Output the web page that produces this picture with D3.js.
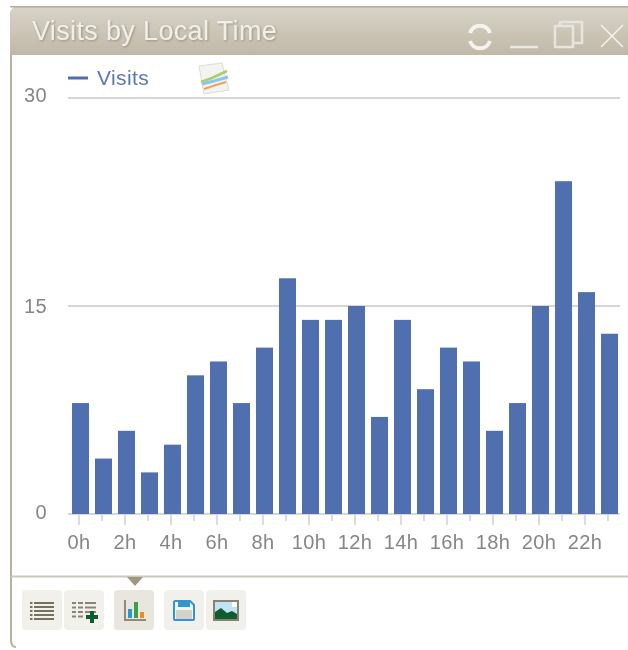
<!DOCTYPE html>
<html lang="en">
<head>
    <meta charset="UTF-8">
    <title>Visits by Local Time</title>
    <script src="https://d3js.org/d3.v7.min.js"></script>
    <style>
        html, body { margin: 0; padding: 0; background: #fff; overflow: hidden; }
        svg { display: block; font-family: "Liberation Sans", Arial, sans-serif; filter: blur(0.55px); }
        .axis text { font-size: 20px; letter-spacing: 0.4px; fill: #858585; }
    </style>
</head>
<body>
    <div id="chart"></div>
    <script>
        const hours = ["0h","1h","2h","3h","4h","5h","6h","7h","8h","9h","10h","11h","12h","13h","14h","15h","16h","17h","18h","19h","20h","21h","22h","23h"];
        const visits = [8,4,6,3,5,10,11,8,12,17,14,14,15,7,14,9,12,11,6,8,15,24,16,13];
        const yTicks = [0,15,30];
        const title = "Visits by Local Time";
        const seriesName = "Visits";

        const svg = d3.select("#chart").append("svg")
            .attr("width", 628)
            .attr("height", 650);

        const defs = svg.append("defs");
        const grad = defs.append("linearGradient")
            .attr("id", "head")
            .attr("x1", 0).attr("y1", 0).attr("x2", 0).attr("y2", 1);
        grad.append("stop").attr("offset", "0%").attr("stop-color", "#d8d4c8");
        grad.append("stop").attr("offset", "100%").attr("stop-color", "#c0b8a7");

        const shadow = defs.append("filter").attr("id", "titleShadow")
            .attr("x", "-5%").attr("y", "-30%").attr("width", "110%").attr("height", "160%");
        shadow.append("feDropShadow")
            .attr("dx", 1).attr("dy", 1).attr("stdDeviation", 1)
            .attr("flood-color", "#8f8672").attr("flood-opacity", 0.8);

        // Panel frame
        svg.append("path")
            .attr("d", "M628,7 H20 Q11,7 11,16 V640 Q11,647 16,647")
            .attr("fill", "none")
            .attr("stroke", "#b9b2a2")
            .attr("stroke-width", 2);
        svg.append("path")
            .attr("d", "M628,6 H20 Q10,6 10,16 V55 H628 Z")
            .attr("fill", "url(#head)");
        svg.append("rect")
            .attr("x", 10).attr("y", 6).attr("width", 618).attr("height", 1.5)
            .attr("fill", "#b3aa97");

        svg.append("text")
            .attr("x", 32).attr("y", 40)
            .attr("font-size", 27)
            .attr("letter-spacing", 0.35)
            .attr("fill", "#f1efe9")
            .attr("filter", "url(#titleShadow)")
            .text(title);

        // Window buttons
        const win = svg.append("g")
            .attr("fill", "none")
            .attr("stroke", "#f4f3ef");
        win.append("path").attr("stroke-width", 4)
            .attr("d", "M490,33 A10.5,10.5 0 0 0 470,33 M470,41 A10.5,10.5 0 0 0 490,41");
        win.append("path").attr("stroke-width", 2.5).attr("stroke", "#e9e8e3").attr("d", "M510,47 H538");
        win.append("path").attr("stroke-width", 2.5).attr("stroke", "#e6e4dd")
            .attr("d", "M555,26 H573 V47 H555 Z M560,26 V22 H582 V43 H573");
        win.append("path").attr("stroke-width", 1.5).attr("d", "M601,25 L623,47 M623,25 L601,47");

        const margin = {left: 69, right: 7, top: 98, bottom: 136};
        const x = d3.scaleBand()
            .domain(hours)
            .range([margin.left, 628 - margin.right])
            .paddingInner(6 / 23)
            .paddingOuter(3 / 23);
        const y = d3.scaleLinear()
            .domain([0, 30])
            .range([650 - margin.bottom, margin.top]);

        // tick marks sit a little left of the bar centres in the original
        const tickX = d => x(d) + x.bandwidth() / 2 - 1.5;

        // Grid lines
        svg.append("g").selectAll("line")
            .data(yTicks)
            .enter().append("line")
            .attr("x1", 68)
            .attr("x2", 620)
            .attr("y1", d => y(d))
            .attr("y2", d => y(d))
            .attr("stroke", "#c8c8c8")
            .attr("stroke-width", 1.5);

        // Y labels, nudged by hand: the original does not centre them on the grid lines
        const labelNudge = d => d === 30 ? 4 : d === 15 ? 7 : 5;
        svg.append("g").attr("class", "axis").selectAll("text")
            .data(yTicks)
            .enter().append("text")
            .attr("x", 47)
            .attr("y", d => y(d) + labelNudge(d))
            .attr("text-anchor", "end")
            .text(d => d);

        // Bars
        svg.append("g").selectAll("rect")
            .data(visits)
            .enter().append("rect")
            .attr("x", (d, i) => x(hours[i]))
            .attr("y", d => y(d))
            .attr("width", x.bandwidth())
            .attr("height", d => y(0) - y(d))
            .attr("fill", "#4f6fae");

        // X ticks, long on even hours
        svg.append("g").selectAll("line")
            .data(hours)
            .enter().append("line")
            .attr("x1", tickX)
            .attr("x2", tickX)
            .attr("y1", y(0) + 1)
            .attr("y2", (d, i) => y(0) + (i % 2 ? 7 : 11))
            .attr("stroke", "#c4c4c4")
            .attr("stroke-width", 1.2);

        svg.append("g").attr("class", "axis").selectAll("text")
            .data(hours.filter((d, i) => i % 2 === 0))
            .enter().append("text")
            .attr("x", tickX)
            .attr("y", 549)
            .attr("text-anchor", "middle")
            .text(d => d);

        // Legend
        svg.append("rect")
            .attr("x", 68).attr("y", 76.5).attr("width", 20).attr("height", 3)
            .attr("fill", "#4f6fae");
        svg.append("text")
            .attr("x", 97).attr("y", 85)
            .attr("font-size", 21)
            .attr("letter-spacing", 0.4)
            .attr("fill", "#5a78b4")
            .text(seriesName);

        // Evolution icon next to the legend
        const evo = svg.append("g");
        evo.append("path")
            .attr("d", "M199,66 L222,63 L229,90 L204,94 Z")
            .attr("fill", "#f4f4ee")
            .attr("stroke", "#dcdcd4");
        evo.append("path").attr("d", "M201,82 L212,78 L227,71").attr("fill", "none")
            .attr("stroke", "#a5cf6e").attr("stroke-width", 2.5);
        evo.append("path").attr("d", "M202,84 L214,81 L228,77").attr("fill", "none")
            .attr("stroke", "#8fc4ea").attr("stroke-width", 3);
        evo.append("path").attr("d", "M204,89 L216,85 L226,82").attr("fill", "none")
            .attr("stroke", "#eba45e").attr("stroke-width", 2);

        // Footer
        svg.append("rect")
            .attr("x", 11).attr("y", 575.5).attr("width", 617).attr("height", 2)
            .attr("fill", "#cdc8bd");
        svg.append("path")
            .attr("d", "M127,577 H143 L135,586 Z")
            .attr("fill", "#a0977f");

        const buttonX = [22, 64, 114, 164, 206];
        svg.append("g").selectAll("rect")
            .data(buttonX)
            .enter().append("rect")
            .attr("x", d => d)
            .attr("y", 590)
            .attr("width", 40)
            .attr("height", 40)
            .attr("rx", 4)
            .attr("fill", (d, i) => i === 2 ? "#e8e6df" : "#f1f0eb");

        const icons = svg.append("g");
        // table icon
        d3.range(5).forEach(i => {
            const rowY = 602 + i * 4;
            icons.append("rect").attr("x", 30).attr("y", rowY).attr("width", 2.5).attr("height", 2).attr("fill", "#77705f");
            icons.append("rect").attr("x", 34).attr("y", rowY).attr("width", 20).attr("height", 2).attr("fill", "#77705f");
        });
        // table with plus
        d3.range(4).forEach(i => {
            const rowY = 602 + i * 4.5;
            icons.append("rect").attr("x", 72).attr("y", rowY).attr("width", 4).attr("height", 2).attr("fill", "#8a8474");
            icons.append("rect").attr("x", 78).attr("y", rowY).attr("width", 5).attr("height", 2).attr("fill", "#8a8474");
            if (i < 3) icons.append("rect").attr("x", 85).attr("y", rowY).attr("width", 11).attr("height", 2).attr("fill", "#8a8474");
        });
        icons.append("path").attr("d", "M86,617 H98 M92,611 V623")
            .attr("stroke", "#0f5c2e").attr("stroke-width", 4).attr("fill", "none");
        // bar icon
        icons.append("path").attr("d", "M125,600 V620 H146")
            .attr("stroke", "#928a78").attr("stroke-width", 2).attr("fill", "none");
        icons.append("rect").attr("x", 128).attr("y", 609).attr("width", 4).attr("height", 9).attr("fill", "#2e97d0");
        icons.append("rect").attr("x", 134).attr("y", 602).attr("width", 4).attr("height", 16).attr("fill", "#3aa04c");
        icons.append("rect").attr("x", 140).attr("y", 612).attr("width", 4).attr("height", 6).attr("fill", "#f08a24");
        // save icon
        icons.append("path").attr("d", "M175,601 H190 L194,605 V619 Q194,620 192,620 H175 Q174,620 174,619 V602 Z")
            .attr("fill", "#f5f5f0").attr("stroke", "#2e97d0").attr("stroke-width", 2);
        icons.append("rect").attr("x", 178).attr("y", 600).attr("width", 12).attr("height", 7).attr("fill", "#2e97d0");
        icons.append("rect").attr("x", 176).attr("y", 610).attr("width", 16).attr("height", 9).attr("fill", "#d6d3c6");
        // image icon
        icons.append("rect").attr("x", 213).attr("y", 600).attr("width", 26).attr("height", 21).attr("fill", "#8a8270");
        icons.append("rect").attr("x", 215).attr("y", 602).attr("width", 22).attr("height", 17).attr("fill", "#bfe3f2");
        icons.append("path").attr("d", "M215,619 V612 L221,608 L227,613 L232,611 L237,614 V619 Z").attr("fill", "#0f5c2e");
        icons.append("rect").attr("x", 232).attr("y", 602).attr("width", 5).attr("height", 5).attr("fill", "#fff");
    </script>
</body>
</html>
